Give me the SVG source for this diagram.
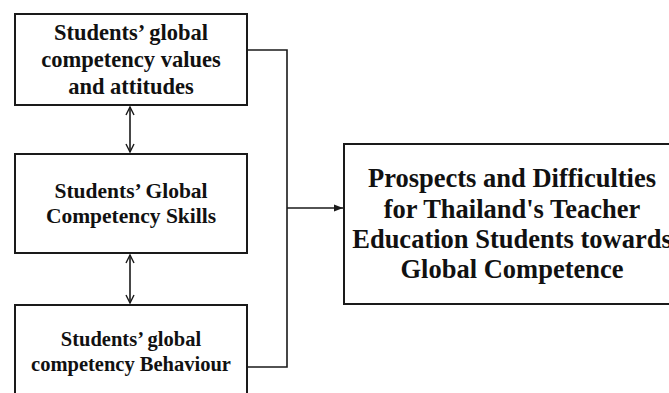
<svg xmlns="http://www.w3.org/2000/svg" width="669" height="393" viewBox="0 0 669 393">
<defs>
<marker id="open" viewBox="0 0 10 10" refX="9" refY="5" markerWidth="10" markerHeight="10" markerUnits="userSpaceOnUse" orient="auto-start-reverse">
<path d="M1,1 L9,5 L1,9" fill="none" stroke="#1a1a1a" stroke-width="1.4"/>
</marker>
<marker id="solid" viewBox="0 0 10 10" refX="10" refY="5" markerWidth="9" markerHeight="9" markerUnits="userSpaceOnUse" orient="auto">
<path d="M0,1 L10,5 L0,9 Z" fill="#1a1a1a"/>
</marker>
<style>
.box{fill:#fff;stroke:#1a1a1a;stroke-width:2}
.t{font-family:"Liberation Serif","Times New Roman",serif;font-weight:bold;fill:#111;text-anchor:middle}
.c{fill:none;stroke:#1a1a1a;stroke-width:1.6}
</style>
</defs>
<rect width="669" height="393" fill="#fff"/>
<g id="n1">
<rect class="box" x="15" y="14" width="232" height="91"/>
<text class="t" font-size="22.5" x="131" y="40">Students’ global</text>
<text class="t" font-size="22.5" x="131" y="67">competency values</text>
<text class="t" font-size="22.5" x="131" y="94">and attitudes</text>
</g>
<g id="n2">
<rect class="box" x="15" y="154" width="232" height="99"/>
<text class="t" font-size="21.5" x="131" y="198">Students’ Global</text>
<text class="t" font-size="21.5" x="131" y="223">Competency Skills</text>
</g>
<g id="n3">
<rect class="box" x="15" y="305" width="232" height="100"/>
<text class="t" font-size="20.5" x="131" y="346">Students’ global</text>
<text class="t" font-size="20.5" x="131" y="371">competency Behaviour</text>
</g>
<g id="n4">
<rect class="box" x="344" y="144" width="340" height="160"/>
<text class="t" font-size="26.5" x="512" y="187">Prospects and Difficulties</text>
<text class="t" font-size="26.5" x="512" y="218">for Thailand's Teacher</text>
<text class="t" font-size="26.5" x="512" y="248">Education Students towards</text>
<text class="t" font-size="26.5" x="512" y="278">Global Competence</text>
</g>
<g id="connectors">
<line class="c" x1="130" y1="107" x2="130" y2="152" marker-start="url(#open)" marker-end="url(#open)"/>
<line class="c" x1="130" y1="255" x2="130" y2="303" marker-start="url(#open)" marker-end="url(#open)"/>
<polyline class="c" points="247,50 287,50 287,367 247,367"/>
<line class="c" x1="287" y1="208" x2="343" y2="208" marker-end="url(#solid)"/>
</g>
</svg>
